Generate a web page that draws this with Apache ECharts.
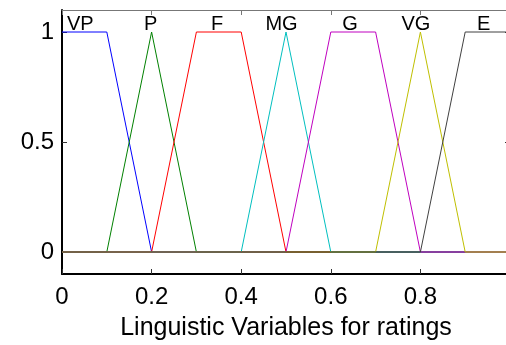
<!DOCTYPE html>
<html>
<head>
<meta charset="utf-8">
<script src="https://cdn.jsdelivr.net/npm/echarts@6/dist/echarts.min.js"></script>
<style>
  html, body { margin: 0; padding: 0; background: #fff; }
  #chart { width: 506px; height: 345px; }
</style>
</head>
<body>
<div id="chart"></div>
<script>
// membership functions: corner points [x, membership]
const vp = [[0, 1], [0.1, 1], [0.2, 0], [1, 0]]
const p = [[0, 0], [0.1, 0], [0.2, 1], [0.3, 0], [1, 0]]
const f = [[0, 0], [0.2, 0], [0.3, 1], [0.4, 1], [0.5, 0], [1, 0]]
const mg = [[0, 0], [0.4, 0], [0.5, 1], [0.6, 0], [1, 0]]
const g = [[0, 0], [0.5, 0], [0.6, 1], [0.7, 1], [0.8, 0], [1, 0]]
const vg = [[0, 0], [0.7, 0], [0.8, 1], [0.9, 0], [1, 0]]
const e = [[0, 0], [0.8, 0], [0.9, 1], [1, 1]]

const seriesNames = ['VP', 'P', 'F', 'MG', 'G', 'VG', 'E']
const seriesData = [vp, p, f, mg, g, vg, e]
const colors = ['#0000ff', '#008000', '#ff0000', '#00bfbf', '#bf00bf', '#bfbf00', '#404040']

const labelX = [0.041, 0.198, 0.346, 0.49, 0.643, 0.79, 0.941]
const labelY = 1.035

const yTicks = [0, 0.5, 1]

const chart = echarts.init(document.getElementById('chart'))

const font = 'Liberation Sans, Arial, sans-serif'

const lines = seriesData.map((d, i) => ({
  name: seriesNames[i],
  type: 'line',
  data: d,
  symbol: 'none',
  lineStyle: { width: 1, color: colors[i] },
  itemStyle: { color: colors[i] },
  z: 2
}))

const option = {
  animation: false,
  grid: { left: 62, right: -4, top: 10, bottom: 71, containLabel: false, outerBoundsMode: 'none' },
  xAxis: [
    {
      type: 'value',
      min: 0,
      max: 1,
      interval: 0.2,
      position: 'bottom',
      name: 'Linguistic Variables for ratings',
      nameLocation: 'middle',
      nameGap: 42,
      nameTextStyle: { fontSize: 25, color: '#000', fontFamily: font },
      axisLine: { onZero: false, lineStyle: { color: '#000', width: 2 } },
      axisTick: { inside: true, length: 5, lineStyle: { color: '#333' } },
      axisLabel: {
        fontSize: 24, color: '#000', fontFamily: font, margin: 11,
        formatter: v => (v >= 1 ? '' : String(v))
      },
      splitLine: { show: false }
    },
    {
      type: 'value',
      min: 0,
      max: 1,
      interval: 0.2,
      position: 'top',
      axisLine: { onZero: false, lineStyle: { color: '#777', width: 1 } },
      axisTick: { inside: true, length: 5, lineStyle: { color: '#777' } },
      axisLabel: { show: false },
      splitLine: { show: false }
    }
  ],
  yAxis: [
    {
      type: 'value',
      min: -0.1,
      max: 1.1,
      position: 'left',
      axisLine: { show: true, onZero: false, lineStyle: { color: '#000', width: 2 } },
      axisTick: { show: true, inside: true, length: 5, customValues: yTicks, lineStyle: { color: '#333' } },
      axisLabel: {
        fontSize: 24, color: '#000', fontFamily: font, margin: 8,
        customValues: yTicks
      },
      splitLine: { show: false }
    },
    {
      type: 'value',
      min: -0.1,
      max: 1.1,
      position: 'right',
      axisLine: { show: false, onZero: false },
      axisTick: { show: true, inside: true, length: 5, customValues: yTicks, lineStyle: { color: '#333' } },
      axisLabel: { show: false },
      splitLine: { show: false }
    }
  ],
  series: [
    ...lines,
    {
      type: 'scatter',
      symbolSize: 0,
      itemStyle: { opacity: 1 },
      data: seriesNames.map((n, i) => ({ name: n, value: [labelX[i], labelY] })),
      label: {
        show: true,
        position: 'inside',
        formatter: '{b}',
        fontSize: 20,
        color: '#000',
        opacity: 1,
        fontFamily: font
      },
      z: 5
    }
  ]
}

chart.setOption(option)
</script>
</body>
</html>
